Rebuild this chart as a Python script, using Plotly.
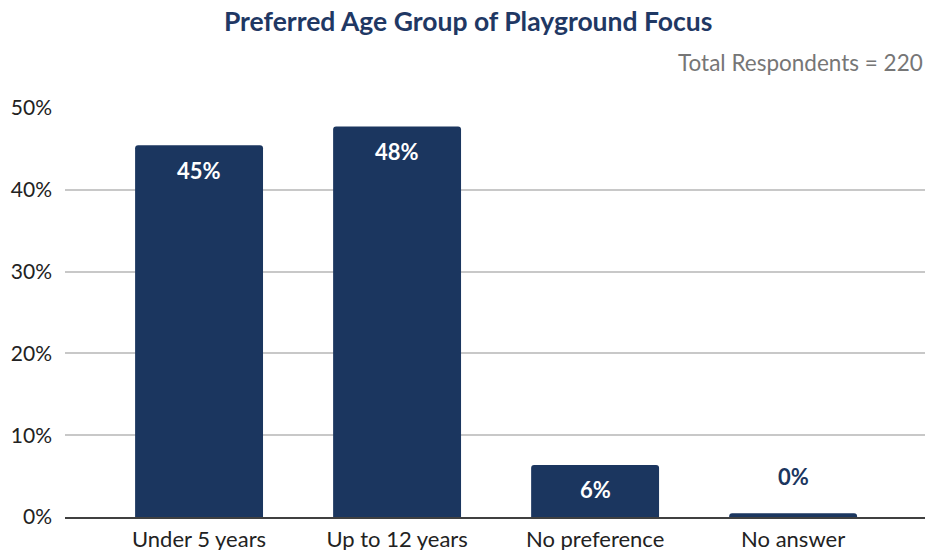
import plotly.graph_objects as go

categories = ["Under 5 years", "Up to 12 years", "No preference", "No answer"]
counts = [100, 105, 14, 1]
total = 220
values = [c / total for c in counts]
labels = [f"{round(v * 100):.0f}%" for v in values]
y_ticks = [0, 0.1, 0.2, 0.3, 0.4, 0.5]
y_tick_labels = ["0%", "10%", "20%", "30%", "40%", "50%"]

NAVY = "#1b365f"
FONT = "Lato"

fig = go.Figure()
fig.add_trace(go.Bar(
    x=list(range(len(categories))), y=values,
    marker=dict(color=NAVY, line=dict(width=0)),
    width=0.646,
    hoverinfo="skip",
))

for i, (v, lab) in enumerate(zip(values, labels)):
    inside = v > 0.03
    fig.add_annotation(
        x=i, y=v, text=f"<b>{lab}</b>", showarrow=False,
        yshift=-25 if inside else 37,
        font=dict(family=FONT, size=22, color="white" if inside else NAVY),
    )

fig.update_layout(
    width=927, height=550,
    margin=dict(l=65, r=2, t=108, b=33),
    paper_bgcolor="white", plot_bgcolor="white",
    showlegend=False,
    barcornerradius=3,
    font=dict(family=FONT, size=21, color="#222222"),
    title=dict(
        text="<b>Preferred Age Group of Playground Focus</b>",
        x=0.505, xanchor="center", y=0.96, yanchor="middle",
        font=dict(family=FONT, size=26.5, color="#1f3864"),
    ),
    xaxis=dict(
        range=[-0.677, 3.666],
        tickmode="array", tickvals=list(range(len(categories))), ticktext=categories,
        showgrid=False, showline=True, linecolor="#404040", linewidth=1.5,
        ticks="", tickfont=dict(size=22, color="#222222"),
        ticklabelstandoff=2,
        automargin=False, fixedrange=True,
    ),
    yaxis=dict(
        range=[0, 0.5],
        tickmode="array", tickvals=y_ticks, ticktext=y_tick_labels,
        showgrid=True, gridcolor="#c8c8c8", gridwidth=1.5,
        zeroline=False, showline=False, ticks="",
        ticklabelstandoff=12,
        tickfont=dict(size=21, color="#222222"),
        automargin=False, fixedrange=True,
    ),
)
fig.add_annotation(
    xref="paper", yref="paper", x=1.0, y=1.0, xanchor="right", yanchor="middle",
    yshift=46, text="Total Respondents = 220", showarrow=False,
    font=dict(family=FONT, size=22.5, color="#767676"),
)

fig.write_html("out.html", config={"displayModeBar": False},
               post_script="document.body.style.margin='0';")
